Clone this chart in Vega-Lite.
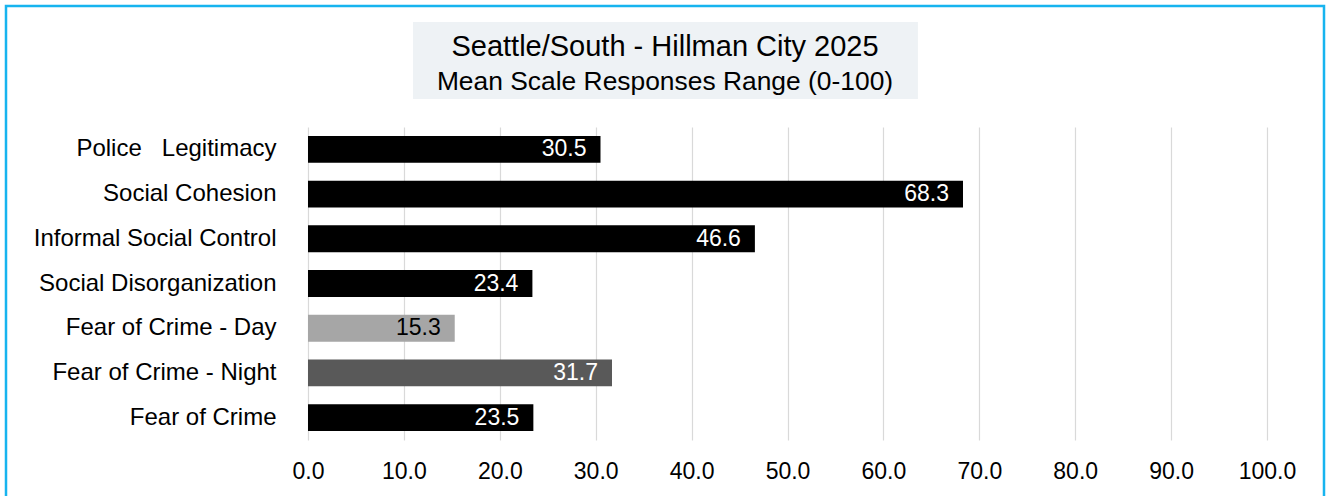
{
  "$schema": "https://vega.github.io/schema/vega-lite/v6.json",
  "autosize": {"type": "none"},
  "padding": {"left": 6, "top": 6, "right": 3, "bottom": -65},
  "width": 1318,
  "height": 555,
  "background": "white",
  "view": {"stroke": "#17b4ef", "strokeWidth": 2.5},
  "config": {"font": "Liberation Sans"},
  "datasets": {
    "scales": [
      {"Scale": "Police\u00a0\u00a0\u00a0Legitimacy", "Mean": 30.5},
      {"Scale": "Social Cohesion", "Mean": 68.3},
      {"Scale": "Informal Social Control", "Mean": 46.6},
      {"Scale": "Social Disorganization", "Mean": 23.4},
      {"Scale": "Fear of Crime - Day", "Mean": 15.3},
      {"Scale": "Fear of Crime - Night", "Mean": 31.7},
      {"Scale": "Fear of Crime", "Mean": 23.5}
    ]
  },
  "layer": [
    {
      "data": {"name": "scales"},
      "encoding": {
        "y": {
          "field": "Scale", "type": "nominal", "sort": null,
          "scale": {"range": [121, 434], "paddingInner": 0.4, "paddingOuter": 0.2},
          "axis": {"orient": "left", "offset": -270, "domain": false, "ticks": false, "labelPadding": 0, "labelFontSize": 24, "labelColor": "black", "title": null, "labelLimit": 500}
        },
        "x": {
          "field": "Mean", "type": "quantitative",
          "scale": {"domain": [0, 100], "range": [302, 1261], "nice": false, "zero": true},
          "axis": {"orient": "bottom", "offset": -101, "values": [0, 10, 20, 30, 40, 50, 60, 70, 80, 90, 100], "format": ".1f", "grid": true, "gridColor": "#d9d9d9", "gridWidth": 1.2, "domain": false, "ticks": false, "tickSize": 0, "labelPadding": 0, "labelFontSize": 23, "labelColor": "black", "title": null, "labelFlush": false, "labelOverlap": false}
        }
      },
      "layer": [
        {
          "mark": {"type": "bar"},
          "encoding": {
            "color": {
              "field": "Scale", "type": "nominal", "legend": null,
              "scale": {
                "domain": ["Police\u00a0\u00a0\u00a0Legitimacy", "Social Cohesion", "Informal Social Control", "Social Disorganization", "Fear of Crime - Day", "Fear of Crime - Night", "Fear of Crime"],
                "range": ["#000000", "#000000", "#000000", "#000000", "#a6a6a6", "#595959", "#000000"]
              }
            }
          }
        },
        {
          "mark": {"type": "text", "align": "right", "dx": -14, "fontSize": 23},
          "encoding": {
            "text": {"field": "Mean", "type": "quantitative", "format": ".1f"},
            "color": {"condition": {"test": "datum.Scale === 'Fear of Crime - Day'", "value": "black"}, "value": "white"}
          }
        }
      ]
    },
    {
      "data": {"values": [{"line1": "Seattle/South - Hillman City 2025", "line2": "Mean Scale Responses Range (0-100)"}]},
      "encoding": {
        "y": {"field": "line1", "type": "nominal", "axis": null, "scale": {"range": [16, 93], "paddingInner": 0, "paddingOuter": 0}}
      },
      "layer": [
        {"mark": {"type": "rect", "color": "#eef2f5"}, "encoding": {"x": {"datum": 10.95, "type": "quantitative"}, "x2": {"datum": 63.6}}},
        {"mark": {"type": "text", "fontSize": 29, "dy": -13.5, "color": "black"}, "encoding": {"text": {"field": "line1"}}},
        {"mark": {"type": "text", "fontSize": 26.4, "dy": 21.5, "color": "black"}, "encoding": {"text": {"field": "line2"}}}
      ]
    }
  ],
  "resolve": {"scale": {"y": "independent"}}
}
